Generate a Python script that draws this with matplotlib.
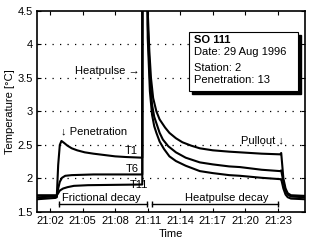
"""Thermistor temperatures during a heat-flow probe penetration (SO 111)."""
import matplotlib
matplotlib.use('Agg')
import matplotlib.pyplot as plt
from matplotlib.patches import Rectangle

plt.rcParams['font.family'] = ['Liberation Sans', 'DejaVu Sans']
plt.rcParams['font.size'] = 8

# time in minutes after 21:00
t1 = [60.8, 62.5, 62.62, 62.75, 62.9, 63.05, 63.3, 63.6, 64.0, 64.5, 65.2, 66.0,
      67.0, 68.0, 69.0, 70.5, 70.52, 70.9, 71.0, 71.15, 71.3, 71.5, 71.8, 72.1,
      72.6, 73.0, 73.6, 74.2, 75.0, 75.8, 77.0, 78.5, 80.0, 81.5, 83.2, 83.3,
      83.5, 83.7, 83.9, 84.2, 85.5]
T1 = [1.69, 1.71, 1.72, 2.2, 2.5, 2.56, 2.53, 2.49, 2.45, 2.42, 2.39, 2.37,
      2.35, 2.33, 2.32, 2.31, 7.0, 7.0, 4.5, 3.9, 3.5, 3.2, 3.0, 2.88,
      2.76, 2.68, 2.6, 2.54, 2.49, 2.45, 2.42, 2.40, 2.385, 2.37, 2.36, 2.38,
      2.0, 1.85, 1.78, 1.75, 1.74]

t6 = [60.8, 62.5, 62.62, 62.75, 62.9, 63.1, 63.4, 64.0, 66.0, 70.5, 70.52, 70.9,
      71.0, 71.2, 71.4, 71.6, 71.85, 72.1, 72.4, 72.9, 73.6, 74.5, 75.8, 77.0,
      78.5, 79.5, 81.5, 83.2, 83.3, 83.5, 83.7, 83.9, 84.2, 85.5]
T6 = [1.72, 1.73, 1.73, 1.85, 1.95, 2.01, 2.04, 2.05, 2.06, 2.06, 7.0, 7.0,
      4.3, 3.5, 3.1, 2.92, 2.8, 2.68, 2.58, 2.48, 2.39, 2.31, 2.24, 2.21,
      2.18, 2.17, 2.13, 2.11, 2.12, 1.95, 1.82, 1.76, 1.73, 1.72]

t11 = [60.8, 62.5, 62.62, 62.75, 62.9, 63.2, 63.6, 64.2, 65.5, 70.5, 70.52, 70.9,
       71.0, 71.2, 71.4, 71.6, 71.8, 72.1, 72.5, 73.0, 73.6, 74.5, 75.8, 77.0,
       78.5, 79.5, 81.5, 83.2, 83.3, 83.5, 83.7, 83.9, 84.2, 85.5]
T11 = [1.75, 1.75, 1.75, 1.78, 1.82, 1.85, 1.87, 1.89, 1.90, 1.91, 7.0, 7.0,
       4.1, 3.3, 2.95, 2.78, 2.68, 2.55, 2.44, 2.33, 2.26, 2.19, 2.11, 2.08,
       2.05, 2.04, 2.01, 1.99, 1.99, 1.85, 1.76, 1.72, 1.70, 1.69]

xticks = [62, 65, 68, 71, 74, 77, 80, 83]
xticklabels = ['21:02', '21:05', '21:08', '21:11', '21:14', '21:17', '21:20', '21:23']
yticks = [1.5, 2, 2.5, 3, 3.5, 4, 4.5]

frictional = (62.8, 70.96)
heatpulse = (71.37, 83.0)

info = ['Date: 29 Aug 1996', 'Station: 2', 'Penetration: 13']


fig = plt.figure(figsize=(3.11, 2.42), dpi=100)
ax = fig.add_axes([0.119, 0.124, 0.862, 0.831])

for t, T in [(t1, T1), (t6, T6), (t11, T11)]:
    ax.plot(t, T, color='black', linewidth=1.5, solid_joinstyle='round')

ax.set_xlim(60.8, 85.5)
ax.set_ylim(1.5, 4.5)
ax.set_xticks(xticks)
ax.set_xticklabels(xticklabels)
ax.set_yticks(yticks)
ax.set_yticklabels(['1.5', '2', '2.5', '3', '3.5', '4', '4.5'])
ax.tick_params(direction='in', top=True, right=True, length=3, width=0.8, pad=3)
for s in ax.spines.values():
    s.set_linewidth(1.2)
for y in [2, 2.5, 3, 3.5, 4]:
    ax.axhline(y, color='black', linestyle=(0, (1, 5)), linewidth=0.9, zorder=0)

ax.set_xlabel('Time', labelpad=2)
ax.set_ylabel('Temperature [°C]', labelpad=2)

# interval bars
for (a, b) in [frictional, heatpulse]:
    ax.plot([a, b], [1.62, 1.62], color='black', linewidth=1.0)
    ax.plot([a, b], [1.62, 1.62], linestyle='none', marker='|', markersize=4,
            color='black', markeredgewidth=1.0)
ax.text(sum(frictional) / 2 - 0.2, 1.64, 'Frictional decay', ha='center', va='bottom')
ax.text(78.3, 1.64, 'Heatpulse decay', ha='center', va='bottom')

ax.text(70.3, 3.6, 'Heatpulse →', ha='right', va='center')
ax.text(63.0, 2.7, '↓ Penetration', ha='left', va='center')
ax.text(83.6, 2.56, 'Pullout ↓', ha='right', va='center')
ax.text(68.9, 2.41, 'T1', ha='left', va='center')
ax.text(69.0, 2.14, 'T6', ha='left', va='center')
ax.text(69.3, 1.91, 'T11', ha='left', va='center')

# info box with drop shadow
bx0, by0, bw, bh = 0.567, 0.602, 0.407, 0.294
ax.add_patch(Rectangle((bx0 + 0.012, by0 - 0.016), bw, bh, transform=ax.transAxes,
                       facecolor='black', edgecolor='black', zorder=5))
ax.add_patch(Rectangle((bx0, by0), bw, bh, transform=ax.transAxes,
                       facecolor='white', edgecolor='black', linewidth=0.8, zorder=6))
ax.text(0.587, 0.856, 'SO 111', transform=ax.transAxes, fontweight='bold',
        va='center', zorder=7)
for y, s in zip([0.796, 0.716, 0.657], info):
    ax.text(0.587, y, s, transform=ax.transAxes, va='center', zorder=7)

fig.savefig('out.png', dpi=100)
